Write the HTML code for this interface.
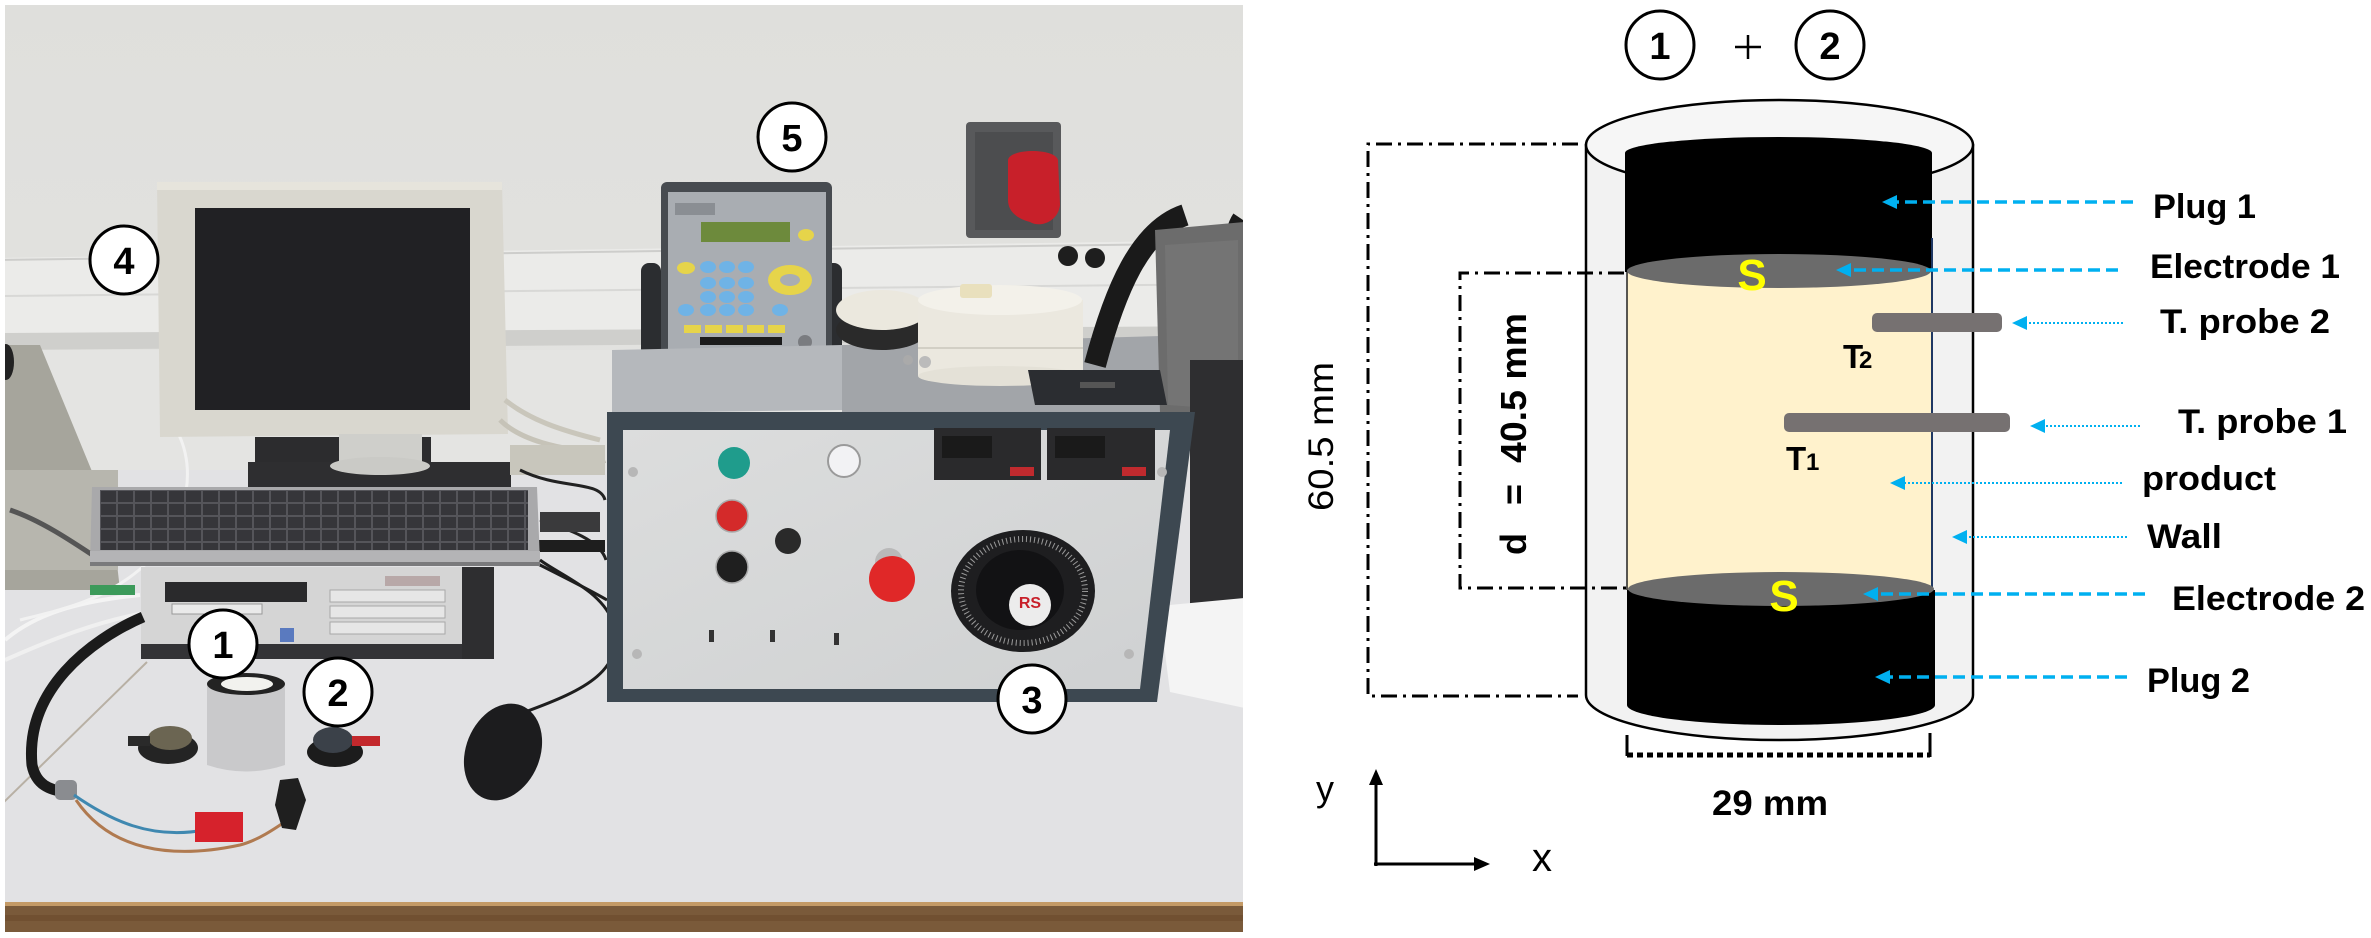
<!DOCTYPE html>
<html><head><meta charset="utf-8"><style>
html,body{margin:0;padding:0;background:#fff;}
svg{display:block;}
text{font-family:"Liberation Sans",Arial,sans-serif;}
</style></head><body>
<svg width="2371" height="938" viewBox="0 0 2371 938" xmlns="http://www.w3.org/2000/svg">
<defs>
<clipPath id="ph"><rect x="5" y="5" width="1238" height="927"/></clipPath>
<pattern id="keys" x="100" y="490" width="17" height="13" patternUnits="userSpaceOnUse">
<rect width="17" height="13" fill="#55555a"/><rect x="1" y="1" width="15" height="11" fill="#36363a"/>
</pattern>
<linearGradient id="wall" x1="0" y1="0" x2="0" y2="1"><stop offset="0" stop-color="#dfdfdc"/><stop offset="1" stop-color="#e7e7e5"/></linearGradient>
<linearGradient id="panel" x1="0" y1="0" x2="1" y2="1"><stop offset="0" stop-color="#dcdddd"/><stop offset="1" stop-color="#cfd1d2"/></linearGradient>
</defs>
<rect width="2371" height="938" fill="#fff"/>

<!-- ================= PHOTO ================= -->
<g clip-path="url(#ph)">
<rect x="0" y="0" width="1250" height="940" fill="url(#wall)"/>
<polygon points="0,258 1250,240 1250,328 0,335" fill="#ebebe9"/>
<line x1="0" y1="260" x2="1250" y2="243" stroke="#cdcdcb" stroke-width="2"/>
<line x1="0" y1="296" x2="1250" y2="284" stroke="#d8d8d6" stroke-width="2"/>
<polygon points="0,333 1250,326 1250,340 0,350" fill="#cfcfcc"/>
<rect x="0" y="350" width="1250" height="130" fill="#e4e4e2"/>
<rect x="0" y="470" width="1250" height="440" fill="#e2e2e4"/>
<line x1="4" y1="802" x2="147" y2="662" stroke="#b8b0a4" stroke-width="2"/>
<rect x="0" y="902" width="1250" height="35" fill="#7a5a3a"/>
<rect x="0" y="902" width="1250" height="4" fill="#c49a66"/>
<rect x="0" y="915" width="1250" height="6" fill="#6a4a2c" opacity="0.6"/>

<polygon points="0,345 40,345 112,520 120,590 0,590" fill="#a6a59c"/>
<rect x="0" y="470" width="118" height="100" fill="#b7b6ae"/>
<ellipse cx="6" cy="362" rx="8" ry="18" fill="#222"/>
<path d="M10,510 C40,520 70,540 100,560" stroke="#555" stroke-width="5" fill="none"/>

<path d="M5,640 C40,610 90,600 140,595" stroke="#f4f4f4" stroke-width="4" fill="none"/>
<path d="M5,660 C50,640 100,620 150,612" stroke="#f0f0f0" stroke-width="4" fill="none"/>
<path d="M170,420 C200,460 190,520 150,560 C110,600 60,610 20,620" stroke="#f2f2f2" stroke-width="3" fill="none"/>
<rect x="90" y="585" width="45" height="10" fill="#3c9a5a"/>

<polygon points="157,182 502,182 508,434 160,437" fill="#d9d7cf"/>
<polygon points="157,182 502,182 502,190 157,190" fill="#e6e4dc"/>
<rect x="195" y="208" width="275" height="202" fill="#212124"/>
<rect x="255" y="437" width="176" height="35" fill="#2c2c2e"/>
<rect x="339" y="434" width="83" height="38" fill="#cfcfcb"/>
<rect x="248" y="462" width="263" height="26" fill="#2e2e30"/>
<ellipse cx="380" cy="466" rx="50" ry="9" fill="#cacac6"/>

<path d="M505,400 C530,420 560,430 600,440" stroke="#c9c6bb" stroke-width="5" fill="none"/>
<path d="M500,420 C520,440 560,450 600,452" stroke="#c6c3b8" stroke-width="5" fill="none"/>
<path d="M515,450 C540,470 580,470 605,460" stroke="#bdbab0" stroke-width="6" fill="none"/>
<rect x="510" y="445" width="95" height="30" fill="#c8c6bc"/>
<path d="M520,470 C560,490 600,480 605,500" stroke="#222" stroke-width="3" fill="none"/>
<path d="M540,520 C570,530 600,540 606,560" stroke="#222" stroke-width="3" fill="none"/>
<path d="M530,560 C560,575 590,590 607,600" stroke="#1e1e1e" stroke-width="3" fill="none"/>
<rect x="540" y="512" width="60" height="20" fill="#3a3a3c"/>
<rect x="530" y="540" width="75" height="12" fill="#1e1e1e"/>

<polygon points="92,487 537,487 540,562 90,566" fill="#a9a9ab"/>
<rect x="100" y="490" width="428" height="60" fill="url(#keys)"/>
<rect x="90" y="551" width="450" height="14" fill="#b4b4b6"/>
<rect x="90" y="562" width="450" height="4" fill="#7a7a7c"/>

<rect x="141" y="567" width="353" height="92" fill="#d5d5d5"/>
<rect x="165" y="582" width="142" height="20" fill="#2a2a2c"/>
<rect x="172" y="604" width="90" height="10" fill="#eaeaea" stroke="#999" stroke-width="1"/>
<rect x="330" y="590" width="115" height="12" fill="#e6e6e6" stroke="#a8a8a8" stroke-width="1"/>
<rect x="330" y="606" width="115" height="12" fill="#e6e6e6" stroke="#a8a8a8" stroke-width="1"/>
<rect x="330" y="622" width="115" height="12" fill="#e6e6e6" stroke="#a8a8a8" stroke-width="1"/>
<rect x="385" y="576" width="55" height="10" fill="#b8a8a8"/>
<rect x="141" y="644" width="353" height="15" fill="#333336"/>
<rect x="462" y="567" width="32" height="92" fill="#2e2e30"/>
<rect x="280" y="628" width="14" height="14" fill="#5a7abf"/>

<path d="M143,617 C90,640 25,690 32,765 C36,785 50,790 65,792" stroke="#1b1b1b" stroke-width="11" fill="none"/>
<rect x="55" y="780" width="22" height="20" rx="5" fill="#8a8c90"/>
<path d="M74,795 C110,820 150,840 205,830" stroke="#3f88b0" stroke-width="3" fill="none"/>
<path d="M76,800 C110,850 170,860 240,845 C260,840 280,825 295,815" stroke="#b07a50" stroke-width="3" fill="none"/>
<rect x="195" y="812" width="48" height="30" fill="#d6222c"/>
<polygon points="280,780 298,778 306,800 296,830 282,828 275,805" fill="#1f1f1f"/>

<path d="M207,684 L207,765 Q246,778 285,765 L285,684 Z" fill="#c9c9cb"/>
<ellipse cx="246" cy="684" rx="39" ry="11" fill="#232323"/>
<ellipse cx="247" cy="684" rx="26" ry="7" fill="#f2f2ee"/>
<ellipse cx="168" cy="748" rx="30" ry="16" fill="#242424"/>
<ellipse cx="170" cy="738" rx="22" ry="12" fill="#6b6552"/>
<rect x="128" y="736" width="22" height="10" fill="#2a2a2a"/>
<ellipse cx="335" cy="752" rx="28" ry="15" fill="#1c1c1c"/>
<ellipse cx="333" cy="740" rx="20" ry="13" fill="#3b4149"/>
<rect x="352" y="736" width="28" height="10" fill="#c3282c"/>

<path d="M525,712 C585,690 628,670 612,620 C600,590 560,575 540,560" stroke="#1e1e1e" stroke-width="3" fill="none"/>
<ellipse cx="503" cy="752" rx="37" ry="50" transform="rotate(22 503 752)" fill="#1c1c1e"/>

<rect x="641" y="263" width="20" height="147" rx="8" fill="#2b2d30"/>
<rect x="824" y="263" width="18" height="147" rx="8" fill="#2b2d30"/>
<rect x="661" y="182" width="171" height="228" rx="6" fill="#474b50"/>
<rect x="668" y="192" width="158" height="192" fill="#a9adb2"/>
<rect x="701" y="222" width="89" height="20" fill="#6d8a3c"/>
<rect x="675" y="203" width="40" height="12" fill="#8a8e93"/>
<ellipse cx="806" cy="235" rx="8" ry="6" fill="#e6d44a"/>
<ellipse cx="686" cy="268" rx="9" ry="6" fill="#e6d44a"/>
<g fill="#6fb3e6">
<ellipse cx="708" cy="267" rx="8" ry="6"/><ellipse cx="727" cy="267" rx="8" ry="6"/><ellipse cx="746" cy="267" rx="8" ry="6"/>
<ellipse cx="708" cy="283" rx="8" ry="6"/><ellipse cx="727" cy="283" rx="8" ry="6"/><ellipse cx="746" cy="283" rx="8" ry="6"/>
<ellipse cx="708" cy="297" rx="8" ry="6"/><ellipse cx="727" cy="297" rx="8" ry="6"/><ellipse cx="746" cy="297" rx="8" ry="6"/>
<ellipse cx="686" cy="310" rx="8" ry="6"/><ellipse cx="708" cy="310" rx="8" ry="6"/><ellipse cx="727" cy="310" rx="8" ry="6"/><ellipse cx="746" cy="310" rx="8" ry="6"/><ellipse cx="780" cy="310" rx="8" ry="6"/>
</g>
<ellipse cx="790" cy="280" rx="22" ry="15" fill="#e6d44a"/>
<ellipse cx="790" cy="280" rx="10" ry="6" fill="#a9adb2"/>
<g fill="#e6d44a">
<rect x="684" y="325" width="17" height="8"/><rect x="705" y="325" width="17" height="8"/><rect x="726" y="325" width="17" height="8"/><rect x="747" y="325" width="17" height="8"/><rect x="768" y="325" width="17" height="8"/>
</g>
<rect x="700" y="337" width="82" height="8" fill="#1c1c1c"/>
<circle cx="805" cy="342" r="7" fill="#7a7c80"/>
<rect x="668" y="388" width="160" height="16" rx="4" fill="#c8c9cb"/>

<polygon points="612,350 842,345 842,410 612,413" fill="#b5b8bc"/>
<polygon points="842,345 1195,335 1197,413 842,413" fill="#a2a5a9"/>
<rect x="966" y="122" width="95" height="116" rx="4" fill="#58595b"/>
<rect x="975" y="132" width="78" height="98" fill="#4c4d4f"/>
<path d="M1008,160 C1010,148 1055,148 1058,160 L1060,205 C1058,222 1040,228 1030,222 C1015,218 1008,210 1008,200 Z" fill="#c8202a"/>
<circle cx="1068" cy="256" r="10" fill="#1e1e1e"/><circle cx="1095" cy="258" r="10" fill="#1e1e1e"/>
<ellipse cx="882" cy="330" rx="46" ry="20" fill="#2a2a2a"/>
<ellipse cx="882" cy="310" rx="46" ry="20" fill="#ebe8de"/>
<rect x="918" y="300" width="165" height="76" fill="#ebe8df"/>
<ellipse cx="1000" cy="376" rx="82" ry="10" fill="#e4e1d7"/>
<line x1="918" y1="348" x2="1083" y2="348" stroke="#d2cfc5" stroke-width="2"/>
<ellipse cx="1000" cy="300" rx="82" ry="15" fill="#f3f1ea"/>
<rect x="960" y="284" width="32" height="14" rx="3" fill="#e9e0bd"/>
<path d="M1185,215 C1140,230 1115,290 1095,365" stroke="#1a1a1a" stroke-width="22" fill="none"/>
<path d="M1240,218 C1225,240 1230,300 1235,340" stroke="#1a1a1a" stroke-width="16" fill="none"/>
<polygon points="1155,230 1245,222 1245,418 1160,413" fill="#6c6c6c"/>
<polygon points="1165,245 1238,240 1238,410 1168,405" fill="#7a7a7a" opacity="0.6"/>
<rect x="1190" y="360" width="60" height="245" fill="#2e2e30"/>
<polygon points="1159,606 1245,598 1245,708 1170,692" fill="#f4f4f4"/>
<polygon points="1028,370 1160,370 1167,405 1035,405" fill="#2b2d31"/>
<rect x="1080" y="382" width="35" height="6" fill="#555"/>
<circle cx="908" cy="360" r="5" fill="#aaa"/><circle cx="925" cy="362" r="6" fill="#bbb"/>

<polygon points="607,412 1195,412 1157,702 607,702" fill="#3d4851"/>
<polygon points="623,430 1170,430 1140,689 623,689" fill="url(#panel)"/>
<circle cx="633" cy="472" r="5" fill="#b7b7b7"/>
<circle cx="637" cy="654" r="5" fill="#b7b7b7"/>
<circle cx="1129" cy="654" r="5" fill="#b7b7b7"/>
<circle cx="1162" cy="472" r="5" fill="#b7b7b7"/>
<rect x="934" y="428" width="107" height="52" fill="#2a2a2c"/>
<rect x="1047" y="428" width="108" height="52" fill="#2a2a2c"/>
<rect x="942" y="436" width="50" height="22" fill="#1a1a1a"/>
<rect x="1055" y="436" width="50" height="22" fill="#1a1a1a"/>
<rect x="1010" y="467" width="24" height="9" fill="#c02a2e"/>
<rect x="1122" y="467" width="24" height="9" fill="#c02a2e"/>
<circle cx="734" cy="463" r="16" fill="#1f9c8c"/>
<circle cx="844" cy="461" r="16" fill="#f2f2f4" stroke="#9a9a9a" stroke-width="2"/>
<circle cx="732" cy="516" r="16" fill="#d42a2a" stroke="#aaa" stroke-width="1.5"/>
<circle cx="732" cy="567" r="16" fill="#1f1f1f" stroke="#aaa" stroke-width="1.5"/>
<circle cx="788" cy="541" r="13" fill="#2a2a2a"/>
<circle cx="889" cy="562" r="14" fill="#b9b9b9"/>
<circle cx="892" cy="579" r="23" fill="#e02828"/>
<ellipse cx="1023" cy="591" rx="72" ry="61" fill="#1e1e20"/>
<ellipse cx="1023" cy="591" rx="62" ry="52" fill="none" stroke="#9a9a9a" stroke-width="6" stroke-dasharray="1 3"/>
<ellipse cx="1020" cy="590" rx="44" ry="40" fill="#121214"/>
<circle cx="1030" cy="605" r="21" fill="#ececec"/>
<text x="1030" y="608" text-anchor="middle" font-size="16" font-weight="bold" fill="#c8202a">RS</text>
<rect x="709" y="630" width="5" height="12" fill="#333"/>
<rect x="770" y="630" width="5" height="12" fill="#333"/>
<rect x="834" y="633" width="5" height="12" fill="#333"/>
</g>

<g font-weight="bold" font-size="38" text-anchor="middle">
<circle cx="124" cy="260" r="34" fill="#fff" stroke="#000" stroke-width="3"/><text x="124" y="274">4</text>
<circle cx="792" cy="137" r="34" fill="#fff" stroke="#000" stroke-width="3"/><text x="792" y="151">5</text>
<circle cx="223" cy="644" r="34" fill="#fff" stroke="#000" stroke-width="3"/><text x="223" y="658">1</text>
<circle cx="338" cy="692" r="34" fill="#fff" stroke="#000" stroke-width="3"/><text x="338" y="706">2</text>
<circle cx="1032" cy="699" r="34" fill="#fff" stroke="#000" stroke-width="3"/><text x="1032" y="713">3</text>
</g>

<!-- ================= DIAGRAM ================= -->
<g font-weight="bold" font-size="38" text-anchor="middle">
<circle cx="1660" cy="45" r="34" fill="#fff" stroke="#000" stroke-width="3"/><text x="1660" y="59">1</text>
<circle cx="1830" cy="45" r="34" fill="#fff" stroke="#000" stroke-width="3"/><text x="1830" y="59">2</text>
</g>
<line x1="1735" y1="47" x2="1761" y2="47" stroke="#000" stroke-width="2.5"/>
<line x1="1748" y1="35" x2="1748" y2="59" stroke="#000" stroke-width="2.5"/>

<path d="M1586,145 L1586,695 A193.5,45 0 0 0 1973,695 L1973,145 Z" fill="#f2f2f2" stroke="#000" stroke-width="2.5"/>
<ellipse cx="1779.5" cy="145" rx="193.5" ry="45" fill="#f6f6f6" stroke="#000" stroke-width="2.5"/>
<path d="M1625,153 A153.5,16 0 0 1 1932,153 L1932,272 L1625,272 Z" fill="#000"/>
<rect x="1627" y="272" width="305" height="318" fill="#fff2cc"/>
<line x1="1627" y1="272" x2="1627" y2="590" stroke="#222" stroke-width="1.5"/>
<line x1="1932" y1="238" x2="1932" y2="590" stroke="#1f3864" stroke-width="2"/>
<ellipse cx="1779" cy="271" rx="152" ry="17" fill="#6b6b6b"/>
<path d="M1627,590 L1627,705 A154,20 0 0 0 1935,705 L1935,590 Z" fill="#000"/>
<ellipse cx="1781" cy="589" rx="153" ry="17" fill="#6b6b6b"/>

<g font-weight="bold" font-size="44" fill="#ffff00" text-anchor="middle">
<text x="1752" y="290">S</text>
<text x="1784" y="611">S</text>
</g>

<rect x="1872" y="313" width="130" height="19" rx="5" fill="#767171"/>
<rect x="1784" y="413" width="226" height="19" rx="5" fill="#767171"/>
<g font-weight="bold">
<text x="1843" y="368" font-size="33">T</text><text x="1859" y="368" font-size="24">2</text>
<text x="1786" y="470" font-size="33">T</text><text x="1806" y="470" font-size="24">1</text>
</g>

<g stroke="#000" stroke-width="3" fill="none" stroke-dasharray="16 6 3 6">
<polyline points="1578,144 1368,144 1368,696 1578,696"/>
<polyline points="1624,273 1460,273 1460,588 1627,588"/>
</g>
<g stroke="#000" fill="none">
<line x1="1627" y1="735" x2="1627" y2="756" stroke-width="3"/>
<line x1="1930" y1="733" x2="1930" y2="757" stroke-width="3"/>
<line x1="1627" y1="755" x2="1930" y2="755" stroke-width="5" stroke-dasharray="6 4"/>
</g>

<text transform="translate(1333,511) rotate(-90)" font-size="35" textLength="149" lengthAdjust="spacingAndGlyphs">60.5 mm</text>
<g transform="translate(1526,555) rotate(-90)" font-weight="bold" font-size="36">
<text x="0" y="0">d</text>
<text x="50" y="0">=</text>
<text x="92" y="0" textLength="150" lengthAdjust="spacingAndGlyphs">40.5 mm</text>
</g>
<text x="1712" y="815" font-size="35" font-weight="bold" textLength="116" lengthAdjust="spacingAndGlyphs">29 mm</text>

<line x1="1376" y1="866" x2="1376" y2="782" stroke="#000" stroke-width="3"/>
<polygon points="1376,769 1369,785 1383,785" fill="#000"/>
<line x1="1374" y1="864" x2="1476" y2="864" stroke="#000" stroke-width="3"/>
<polygon points="1490,864 1474,857 1474,871" fill="#000"/>
<text x="1316" y="801" font-size="36">y</text>
<text x="1532" y="871" font-size="40">x</text>

<g stroke="#00b0f0" fill="none">
<line x1="2133" y1="202" x2="1895" y2="202" stroke-width="3.5" stroke-dasharray="12 6"/>
<line x1="2118" y1="270" x2="1849" y2="270" stroke-width="3.5" stroke-dasharray="12 6"/>
<line x1="2123" y1="323" x2="2025" y2="323" stroke-width="2" stroke-dasharray="2 2"/>
<line x1="2140" y1="426" x2="2043" y2="426" stroke-width="2" stroke-dasharray="2 2"/>
<line x1="2122" y1="483" x2="1903" y2="483" stroke-width="2" stroke-dasharray="2 2"/>
<line x1="2127" y1="537" x2="1965" y2="537" stroke-width="2" stroke-dasharray="2 2"/>
<line x1="2145" y1="594" x2="1876" y2="594" stroke-width="3.5" stroke-dasharray="12 6"/>
<line x1="2127" y1="677" x2="1888" y2="677" stroke-width="3.5" stroke-dasharray="12 6"/>
</g>
<g fill="#00b0f0">
<polygon points="1882,202 1897,195 1897,209"/>
<polygon points="1836,270 1851,263 1851,277"/>
<polygon points="2012,323 2027,316 2027,330"/>
<polygon points="2030,426 2045,419 2045,433"/>
<polygon points="1890,483 1905,476 1905,490"/>
<polygon points="1952,537 1967,530 1967,544"/>
<polygon points="1863,594 1878,587 1878,601"/>
<polygon points="1875,677 1890,670 1890,684"/>
</g>

<g font-weight="bold" font-size="34" fill="#000">
<text x="2153" y="218" textLength="103" lengthAdjust="spacingAndGlyphs">Plug 1</text>
<text x="2150" y="278" textLength="190" lengthAdjust="spacingAndGlyphs">Electrode 1</text>
<text x="2160" y="333" textLength="170" lengthAdjust="spacingAndGlyphs">T. probe 2</text>
<text x="2178" y="433" textLength="169" lengthAdjust="spacingAndGlyphs">T. probe 1</text>
<text x="2142" y="490" textLength="134" lengthAdjust="spacingAndGlyphs">product</text>
<text x="2147" y="548" textLength="75" lengthAdjust="spacingAndGlyphs">Wall</text>
<text x="2172" y="610" textLength="193" lengthAdjust="spacingAndGlyphs">Electrode 2</text>
<text x="2147" y="692" textLength="103" lengthAdjust="spacingAndGlyphs">Plug 2</text>
</g>
</svg>
</body></html>
